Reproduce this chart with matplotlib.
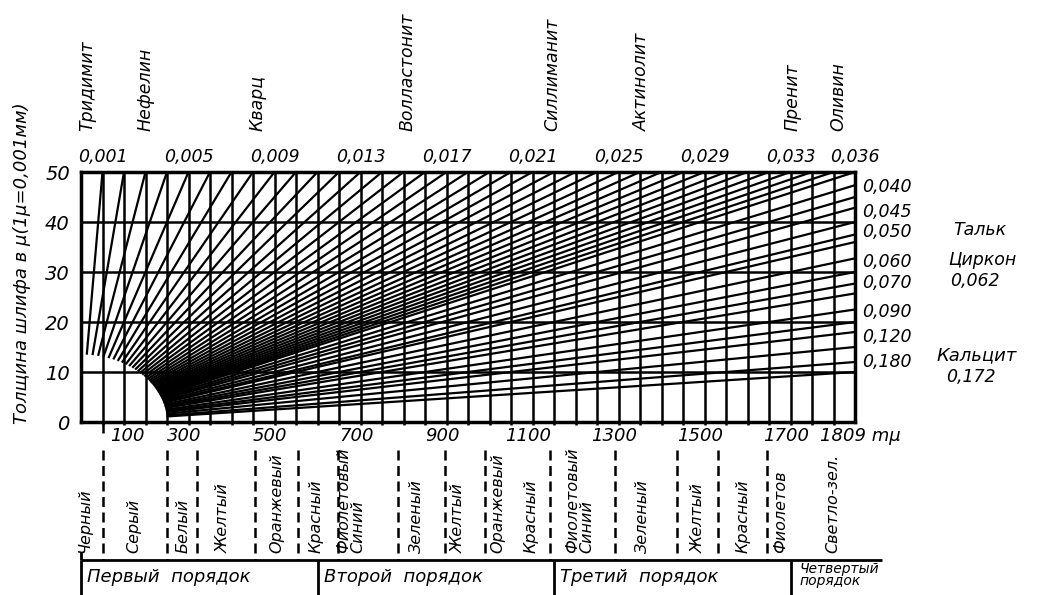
import matplotlib.pyplot as plt
import numpy as np

plt.rcParams['font.family'] = ['DejaVu Sans']
plt.rcParams['font.style'] = 'italic'

# толщина шлифа, мкм
thickness_ticks = [0, 10, 20, 30, 40, 50]
# разность хода, mµ
path_ticks = [100, 300, 500, 700, 900, 1100, 1300, 1500, 1700]
path_max = 1809
thick_max = 50

# двупреломление: линии, выходящие на верхний край
biref_top = [0.001, 0.002, 0.003, 0.004, 0.005, 0.006, 0.007, 0.008, 0.009,
             0.010, 0.011, 0.012, 0.013, 0.014, 0.015, 0.016, 0.017, 0.018,
             0.019, 0.020, 0.021, 0.022, 0.023, 0.024, 0.025, 0.026, 0.027,
             0.028, 0.029, 0.030, 0.031, 0.032, 0.033, 0.034, 0.035, 0.036]
# линии, выходящие на правый край
biref_right = [0.038, 0.040, 0.042, 0.045, 0.048, 0.050, 0.055, 0.060,
               0.065, 0.070, 0.080, 0.090, 0.100, 0.120, 0.150, 0.180]

top_labels = ['0,001', '0,005', '0,009', '0,013', '0,017', '0,021',
              '0,025', '0,029', '0,033', '0,036']
top_label_values = [0.001, 0.005, 0.009, 0.013, 0.017, 0.021,
                    0.025, 0.029, 0.033, 0.036]
right_labels = ['0,040', '0,045', '0,050', '0,060', '0,070', '0,090',
                '0,120', '0,180']
right_label_values = [0.040, 0.045, 0.050, 0.060, 0.070, 0.090, 0.120, 0.180]

top_minerals = ['Тридимит', 'Нефелин', 'Кварц', 'Волластонит', 'Силлиманит',
                'Актинолит', 'Пренит', 'Оливин']
top_mineral_biref = [0.0003, 0.003, 0.0082, 0.0152, 0.0219, 0.0261, 0.0331, 0.0352]

# границы интерференционных окрасок, mµ
color_bounds = [51, 200, 270, 405, 505, 598, 737, 847, 940, 1091, 1242,
                1386, 1481, 1595]
color_names = ['Черный', 'Серый', 'Белый', 'Желтый', 'Оранжевый', 'Красный',
               'Фиолетовый\nСиний', 'Зеленый', 'Желтый', 'Оранжевый',
               'Красный', 'Фиолетовый\nСиний', 'Зеленый', 'Желтый',
               'Красный', 'Фиолетов', 'Светло-зел.']

order_bounds = [0, 550, 1100, 1650]
order_names = ['Первый  порядок', 'Второй  порядок', 'Третий  порядок',
               'Четвертый\nпорядок']

fig = plt.figure(figsize=(10.38, 5.95), dpi=100)
ax = fig.add_axes([81 / 1038, 173 / 595, 774 / 1038, 250 / 595])
ax.set_xlim(0, 1800)
ax.set_ylim(0, thick_max)

for s in ax.spines.values():
    s.set_linewidth(2.5)
ax.set_xticks([])
ax.set_yticks(thickness_ticks)
ax.set_yticklabels([str(t) for t in thickness_ticks], fontsize=14)
ax.tick_params(axis='y', length=0, pad=8)

# сетка
ax.vlines(np.arange(50, 1800, 50), -0.6, thick_max, color='black', lw=1.8,
          clip_on=False)
ax.vlines([50], -2.2, 0, color='black', lw=1.8, clip_on=False)
ax.hlines([10, 20, 30, 40], 0, 1800, color='black', lw=1.8)

# линии двупреломления от дуги у начала координат
for b in biref_top + biref_right:
    k = 1000 * b
    d0 = 1 / np.sqrt((k / 200) ** 2 + (1 / 13.5) ** 2)
    d1 = min(thick_max, 1800 / k)
    ax.plot([k * d0, k * d1], [d0, d1], color='black', lw=1.6,
            solid_capstyle='butt')

# подписи сверху и справа
for lab, b in zip(top_labels, top_label_values):
    ax.text(1000 * b * thick_max, 51.2, lab, ha='center', va='bottom', fontsize=12.5)
for lab, b in zip(right_labels, right_label_values):
    ax.text(1816, 1800 / (1000 * b) + 2, lab, ha='left', va='center', fontsize=12.5)

for name, b in zip(top_minerals, top_mineral_biref):
    ax.text(1000 * b * thick_max, 58.2, name, rotation=90, ha='center',
            va='bottom', fontsize=12.5)

ax.text(2028, 38.4, 'Тальк', ha='left', va='center', fontsize=12.5)
ax.text(2017, 32.4, 'Циркон', ha='left', va='center', fontsize=12.5)
ax.text(2021, 28.2, '0,062', ha='left', va='center', fontsize=12.5)
ax.text(1990, 13.4, 'Кальцит', ha='left', va='center', fontsize=13)
ax.text(2012, 9.0, '0,172', ha='left', va='center', fontsize=12.5)

ax.text(-137, 31.8, 'Толщина шлифа в μ(1μ=0,001мм)', rotation=90,
        ha='center', va='center', fontsize=13)

# подписи разности хода
for v in path_ticks:
    x = v + 7 if v == 100 else v - 60
    ax.text(x, -2.8, str(v), ha='center', va='center', fontsize=13)
ax.text(1719, -2.8, f'{path_max} mμ', ha='left', va='center', fontsize=13)

# интерференционные окраски
ax.vlines(color_bounds, -5.5, -27.6, color='black', lw=1.8,
          linestyles=(0, (4.0, 2.2)), clip_on=False)
band_label_at = [9, 123, 237, 330, 456, 547, 628, 781, 877, 970, 1047,
                 1160, 1305, 1435, 1540, 1628, 1749]
for name, x in zip(color_names, band_label_at):
    ax.text(x, -26.2, name, rotation=90, ha='center', va='bottom',
            fontsize=11.5, multialignment='left', linespacing=0.95)

# порядки
ax.hlines(-27.6, 0, 1863, color='black', lw=2.0, clip_on=False)
ax.vlines(order_bounds, -27.6, -35, color='black', lw=2.0, clip_on=False)
ax.vlines([0], -26, -27.6, color='black', lw=2.0, clip_on=False)
for name, x in zip(order_names, order_bounds):
    if '\n' in name:
        ax.text(x + 22, -30.6, name, ha='left', va='center', fontsize=10,
                linespacing=0.85)
    else:
        ax.text(x + 14, -31.0, name, ha='left', va='center', fontsize=13)

fig.savefig('out.png', dpi=100)
